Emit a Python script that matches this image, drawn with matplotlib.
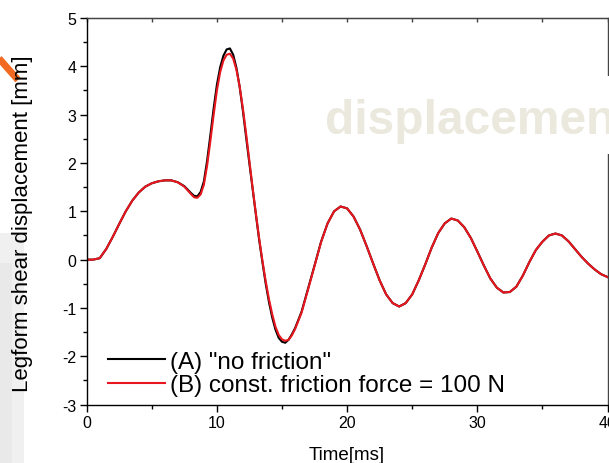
import numpy as np
import matplotlib
matplotlib.use("Agg")
import matplotlib.pyplot as plt
from matplotlib import font_manager
from matplotlib.lines import Line2D
from matplotlib.patches import Rectangle
from matplotlib.ticker import MultipleLocator

plt.rcParams['font.family'] = ['Liberation Sans', 'DejaVu Sans']
plt.rcParams['axes.unicode_minus'] = False

# Zeit [ms]
time = [0.0, 0.5, 1.0, 1.5, 2.0, 2.5, 3.0, 3.5, 4.0, 4.5, 5.0, 5.5, 6.0, 6.5, 7.0, 7.5,
        8.0, 8.25, 8.5, 8.75, 9.0, 9.25, 9.5, 9.75, 10.0, 10.25, 10.5, 10.75, 11.0, 11.25,
        11.5, 11.75, 12.0, 12.25, 12.5, 12.75, 13.0, 13.25, 13.5, 13.75, 14.0, 14.25, 14.5,
        14.75, 15.0, 15.25, 15.5, 15.75, 16.0, 16.5, 17.0, 17.5, 18.0, 18.5, 19.0, 19.5,
        20.0, 20.5, 21.0, 21.5, 22.0, 22.5, 23.0, 23.5, 24.0, 24.5, 25.0, 25.5, 26.0, 26.5,
        27.0, 27.5, 28.0, 28.5, 29.0, 29.5, 30.0, 30.5, 31.0, 31.5, 32.0, 32.5, 33.0, 33.5,
        34.0, 34.5, 35.0, 35.5, 36.0, 36.5, 37.0, 37.5, 38.0, 38.5, 39.0, 39.5, 40.0]

# (A) "no friction"
disp_a = [0.0, 0.0, 0.03, 0.22, 0.47, 0.74, 1.0, 1.22, 1.39, 1.51, 1.58, 1.62, 1.64, 1.64, 1.6, 1.52,
          1.38, 1.32, 1.31, 1.4, 1.62, 2.05, 2.58, 3.13, 3.62, 3.98, 4.22, 4.35, 4.37, 4.24,
          3.97, 3.57, 3.07, 2.52, 1.98, 1.45, 0.92, 0.4, -0.06, -0.5, -0.88, -1.2, -1.45,
          -1.62, -1.7, -1.72, -1.66, -1.55, -1.42, -1.08, -0.6, -0.12, 0.37, 0.75, 1.0, 1.1,
          1.06, 0.89, 0.62, 0.28, -0.08, -0.43, -0.72, -0.9, -0.97, -0.9, -0.72, -0.43, -0.1, 0.25,
          0.55, 0.75, 0.85, 0.81, 0.67, 0.45, 0.17, -0.12, -0.39, -0.58, -0.68, -0.67, -0.56, -0.33,
          -0.05, 0.2, 0.37, 0.5, 0.54, 0.5, 0.38, 0.22, 0.06, -0.08, -0.2, -0.3, -0.36]

# (B) const. friction force = 100 N
disp_b = [0.0, 0.0, 0.03, 0.22, 0.47, 0.74, 1.0, 1.22, 1.39, 1.51, 1.58, 1.62, 1.64, 1.64, 1.6, 1.51,
          1.36, 1.29, 1.28, 1.35, 1.55, 1.95, 2.46, 3.0, 3.5, 3.88, 4.12, 4.24, 4.26, 4.16,
          3.93, 3.58, 3.12, 2.59, 2.03, 1.47, 0.94, 0.43, -0.03, -0.45, -0.82, -1.13, -1.39,
          -1.56, -1.65, -1.68, -1.66, -1.57, -1.44, -1.1, -0.62, -0.13, 0.36, 0.75, 1.0, 1.1,
          1.06, 0.89, 0.62, 0.28, -0.08, -0.43, -0.72, -0.9, -0.97, -0.9, -0.72, -0.43, -0.1, 0.25,
          0.55, 0.75, 0.85, 0.81, 0.67, 0.45, 0.17, -0.12, -0.39, -0.58, -0.68, -0.67, -0.56, -0.33,
          -0.05, 0.2, 0.37, 0.5, 0.54, 0.5, 0.38, 0.22, 0.06, -0.08, -0.2, -0.3, -0.36]

W, H = 609, 464
fig = plt.figure(figsize=(W / 100, H / 100), dpi=100)

# Folienhintergrund links (grauer Verlauf) und orange Pfeilspitze
fig.patches.append(Rectangle((0, 0), 24 / W, 230 / H, transform=fig.transFigure,
                             facecolor='#f0f0f0', edgecolor='none', zorder=-2))
fig.patches.append(Rectangle((0, 0), 12 / W, 200 / H, transform=fig.transFigure,
                             facecolor='#e9e9e9', edgecolor='none', zorder=-2))
fig.lines.append(Line2D([-4 / W, 18 / W], [1 - 56 / H, 1 - 81 / H], transform=fig.transFigure,
                        color='#f26a21', lw=5, solid_capstyle='butt', zorder=-1))

ax = fig.add_axes([86.7 / W, 1 - 405.6 / H, 520.8 / W, 386.6 / H])
ax.plot(time, disp_a, color='black', lw=1.5, label='(A) "no friction"')
ax.plot(time, disp_b, color='#e8161e', lw=1.5, label='(B) const. friction force = 100 N')

ax.set_xlim(0, 40)
ax.set_ylim(-3, 5)
ax.xaxis.set_major_locator(MultipleLocator(10))
ax.xaxis.set_minor_locator(MultipleLocator(5))
ax.yaxis.set_major_locator(MultipleLocator(1))
ax.yaxis.set_minor_locator(MultipleLocator(0.5))
ax.tick_params(which='both', direction='out', width=1, labelsize=11.5, pad=2.5)
ax.tick_params(which='major', length=5)
ax.tick_params(which='minor', length=3)
for sp in ['top', 'right']:
    ax.spines[sp].set_color('#444444')
for sp in ax.spines.values():
    sp.set_linewidth(1.0)

# obere Achse: nur kurze Striche nach innen
top = ax.secondary_xaxis('top')
top.xaxis.set_major_locator(MultipleLocator(5))
top.tick_params(direction='in', length=3, width=1, color='#444444', labeltop=False)
top.spines['top'].set_color('#444444')

ax.set_xlabel('Time[ms]', fontsize=13.5, va='center')
ax.xaxis.set_label_coords(0.5, -0.128)
ax.set_ylabel('Legform shear displacement [mm]', fontsize=16, va='center')
ax.yaxis.set_label_coords(-0.124, 0.47)

ax.legend(loc='lower left', bbox_to_anchor=(0.041, 0.022), frameon=False, fontsize=17.5,
          handlelength=2.35, handletextpad=0.2, borderpad=0, borderaxespad=0,
          labelspacing=0.05)

# Wasserzeichen "displacement" mit weisser Box
names = {f.name for f in font_manager.fontManager.ttflist}
if 'Liberation Sans Narrow' in names:
    wm_family, wm_size = ['Liberation Sans Narrow'], 42
else:
    wm_family, wm_size = ['Liberation Sans'], 34.5
fig.patches.append(Rectangle((315 / W, 1 - 155 / H), 300 / W, 78 / H, transform=fig.transFigure,
                             facecolor='white', edgecolor='none', zorder=5))
fig.text(325 / W, 1 - 134 / H, 'displacement', family=wm_family, fontsize=wm_size,
         fontweight='bold', color='#ebe8dd', ha='left', va='baseline', zorder=6)

fig.savefig('out.png', dpi=100)
